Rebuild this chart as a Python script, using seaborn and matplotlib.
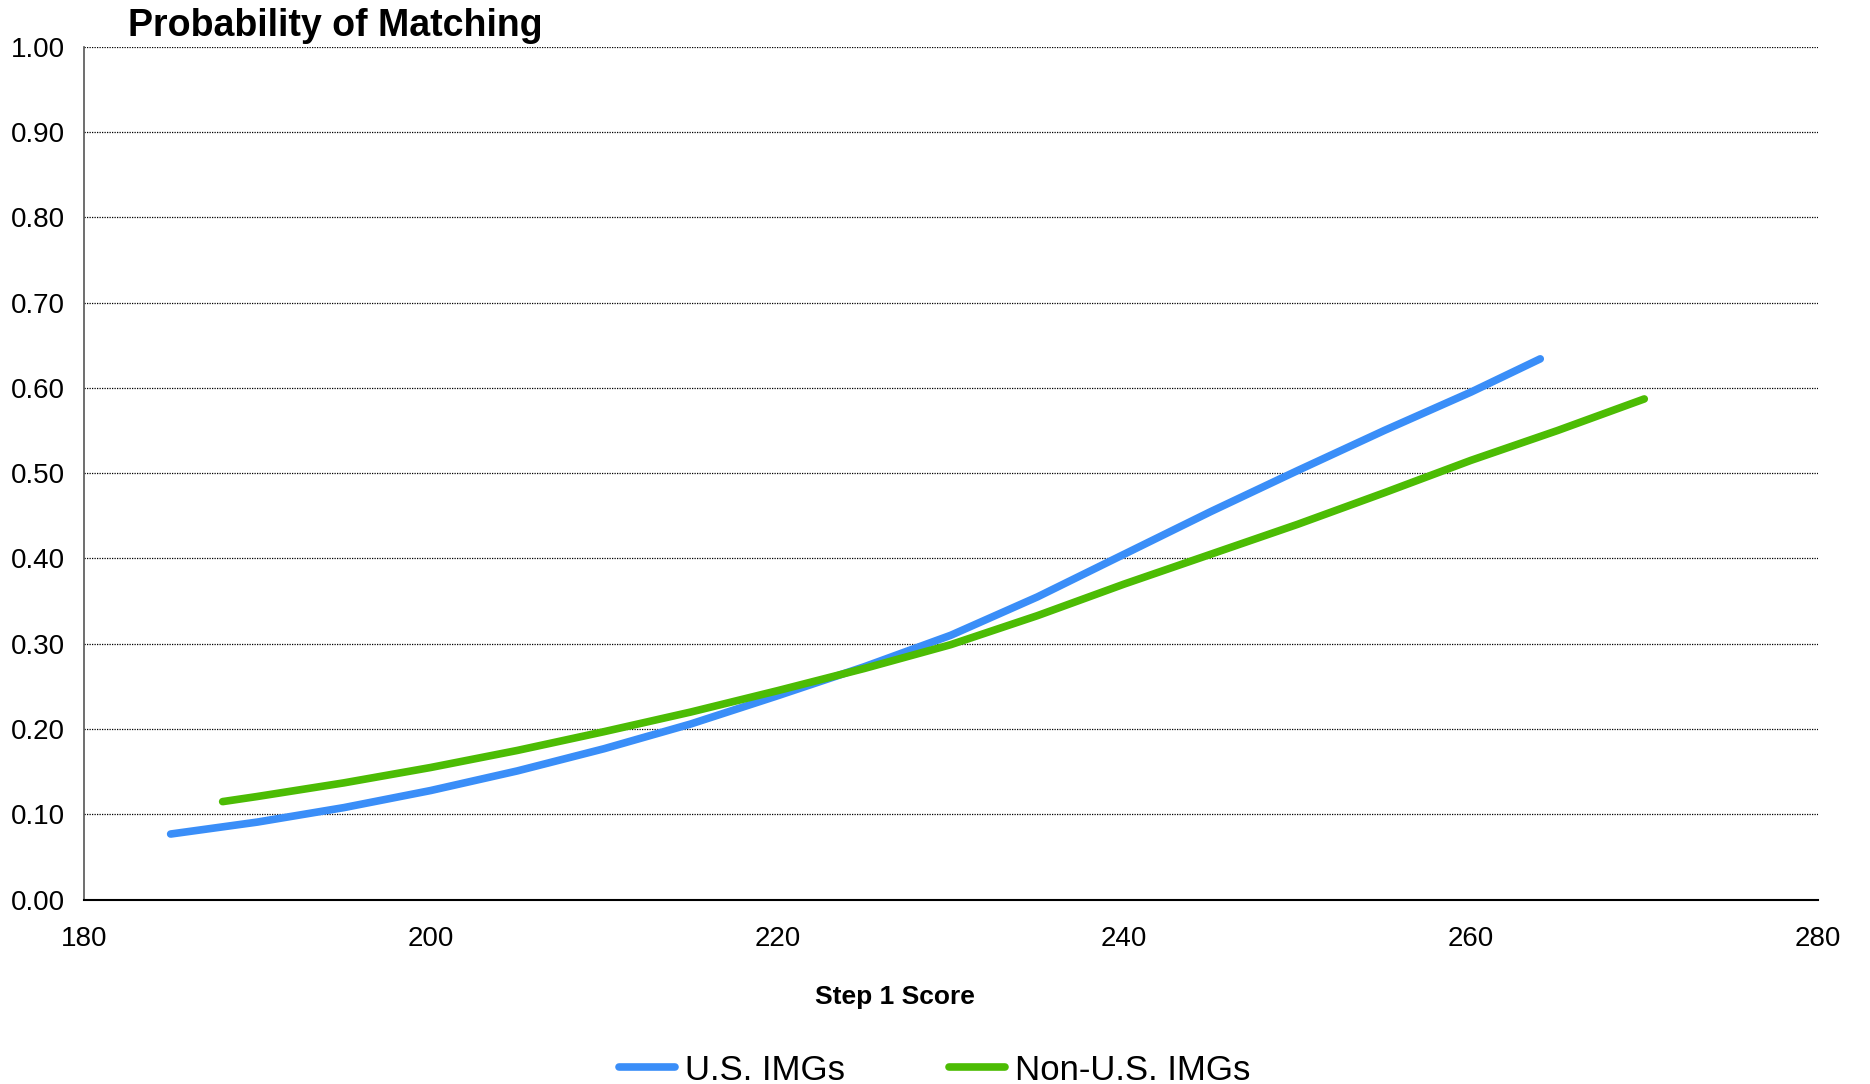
#!/usr/bin/env python3
#===============================================================================
# plot probability of matching
#===============================================================================

# Imports ======================================================================

import matplotlib
matplotlib.use('Agg')
import matplotlib.pyplot as plt
import pandas as pd
import seaborn as sns


# Data =========================================================================

US_SCORE = [185, 190, 195, 200, 205, 210, 215, 220, 225, 230, 235, 240, 245,
            250, 255, 260, 264]
US_PROB = [0.077, 0.091, 0.108, 0.128, 0.151, 0.177, 0.206, 0.239, 0.273,
           0.310, 0.355, 0.405, 0.455, 0.503, 0.550, 0.595, 0.634]

NON_US_SCORE = [188, 190, 195, 200, 205, 210, 215, 220, 225, 230, 235, 240,
                245, 250, 255, 260, 265, 270]
NON_US_PROB = [0.115, 0.121, 0.137, 0.155, 0.175, 0.197, 0.220, 0.245, 0.271,
               0.299, 0.333, 0.370, 0.405, 0.440, 0.477, 0.515, 0.550, 0.587]

SERIES = ['U.S. IMGs', 'Non-U.S. IMGs']
COLORS = ['#3A8EF8', '#4CBC04']
Y_TICKS = [0.0, 0.1, 0.2, 0.3, 0.4, 0.5, 0.6, 0.7, 0.8, 0.9, 1.0]
X_TICKS = [180, 200, 220, 240, 260, 280]


# Functions ====================================================================

def main():
    sns.set_theme(style='white')
    plt.rcParams['font.family'] = ['Liberation Sans', 'DejaVu Sans']
    plt.rcParams['text.color'] = 'black'

    data = pd.concat([
        pd.DataFrame({'score': US_SCORE, 'prob': US_PROB,
                      'group': SERIES[0]}),
        pd.DataFrame({'score': NON_US_SCORE, 'prob': NON_US_PROB,
                      'group': SERIES[1]}),
    ])

    fig = plt.figure(figsize=(18.7, 10.84), dpi=100)
    ax = fig.add_axes([0.0449, 0.170, 0.9271, 0.787])

    sns.lineplot(
        data=data, x='score', y='prob', hue='group', hue_order=SERIES,
        palette=COLORS, linewidth=5.5, sort=False, ax=ax, legend=False,
        solid_capstyle='round'
    )

    ax.set_xlim(180, 280)
    ax.set_ylim(0, 1)
    ax.set_xticks(X_TICKS)
    ax.set_yticks(Y_TICKS)
    ax.set_yticklabels(['%.2f' % t for t in Y_TICKS])
    ax.tick_params(axis='both', length=0, labelsize=20, colors='black')
    ax.tick_params(axis='x', pad=19)
    ax.tick_params(axis='y', pad=14)
    ax.yaxis.grid(True, color='black', linestyle=(0, (1, 1)), linewidth=0.9)
    ax.xaxis.grid(False)
    ax.set_axisbelow(True)

    for side in ('top', 'right'):
        ax.spines[side].set_visible(False)
    ax.spines['left'].set_color('#555555')
    ax.spines['left'].set_linewidth(1.2)
    ax.spines['bottom'].set_color('black')
    ax.spines['bottom'].set_linewidth(1.5)

    ax.set_xlabel('Step 1 Score', fontsize=19, fontweight='bold',
                  color='black')
    ax.xaxis.set_label_coords(0.4677, -0.100)
    ax.set_ylabel('')

    fig.text(128 / 1870, 1 - 26 / 1084, 'Probability of Matching',
             fontsize=27, fontweight='bold', ha='left', va='center',
             color='black')

    handles = [plt.Line2D([], [], color=c, linewidth=5.5,
                          solid_capstyle='round') for c in COLORS]
    leg = fig.legend(handles, SERIES, loc='center', ncol=2, frameon=False,
                     bbox_to_anchor=(0.5, 1 - 1070 / 1084), fontsize=25,
                     handlelength=1.6, handletextpad=0.3, columnspacing=3.0)
    for t in leg.get_texts():
        t.set_color('black')

    fig.savefig('out.png', dpi=100)


# Execute ======================================================================

if __name__ == '__main__':
    main()
